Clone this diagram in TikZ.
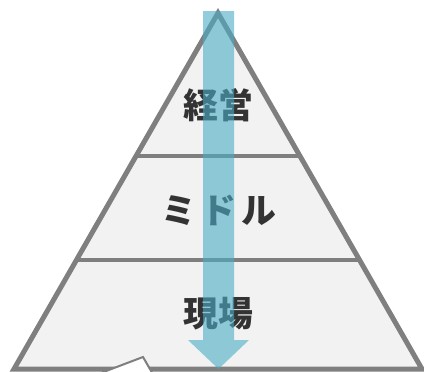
\documentclass[tikz,border=0pt]{standalone}
\usepackage{fontspec}
\newfontfamily\jp{Noto Sans CJK JP}
\usetikzlibrary{calc}
\definecolor{pyrfill}{HTML}{F2F2F2}
\definecolor{pyrline}{HTML}{7F7F7F}
\definecolor{arrowblue}{HTML}{4BACC6}
\definecolor{txt}{HTML}{333333}
\tikzset{
  layer/.style={draw=pyrline, line width=5bp, fill=pyrfill},
  divider/.style={draw=pyrline, line width=4.5bp},
  label/.style={font=\jp\bfseries\fontsize{35}{35}\selectfont, text=txt, inner sep=0pt, anchor=center},
  flow/.style={fill=arrowblue, fill opacity=0.6, draw=none},
  tail/.style={draw=pyrline, line width=2bp, fill=white, line join=miter}
}
\begin{document}
\begin{tikzpicture}[x=1bp,y=-1bp]
\useasboundingbox (0,0) rectangle (424,372);
\coordinate (apex) at (218,13);
\coordinate (bl) at (14,369);
\coordinate (br) at (422,369);
\draw[layer] (apex) -- (bl) -- (br) -- cycle;
\coordinate (l1) at ($(apex)!0.4017!(bl)$);
\coordinate (r1) at ($(apex)!0.4017!(br)$);
\coordinate (l2) at ($(apex)!0.6938!(bl)$);
\coordinate (r2) at ($(apex)!0.6938!(br)$);
\draw[divider] (l1) -- (r1);
\draw[divider] (l2) -- (r2);
\node[label] (top) at (218,105) {経営};
\node[label] (mid) at (219,210) {ミ\kern5bp ド\kern5bp ル};
\node[label] (bot) at (218,314) {現場};
\fill[flow] (203,11) -- (234,11) -- (234,340) -- (249,340) -- (218.5,369) -- (188,340) -- (203,340) -- cycle;
\draw[tail] (93,376) -- (143,357) -- (154,376);
\end{tikzpicture}
\end{document}
